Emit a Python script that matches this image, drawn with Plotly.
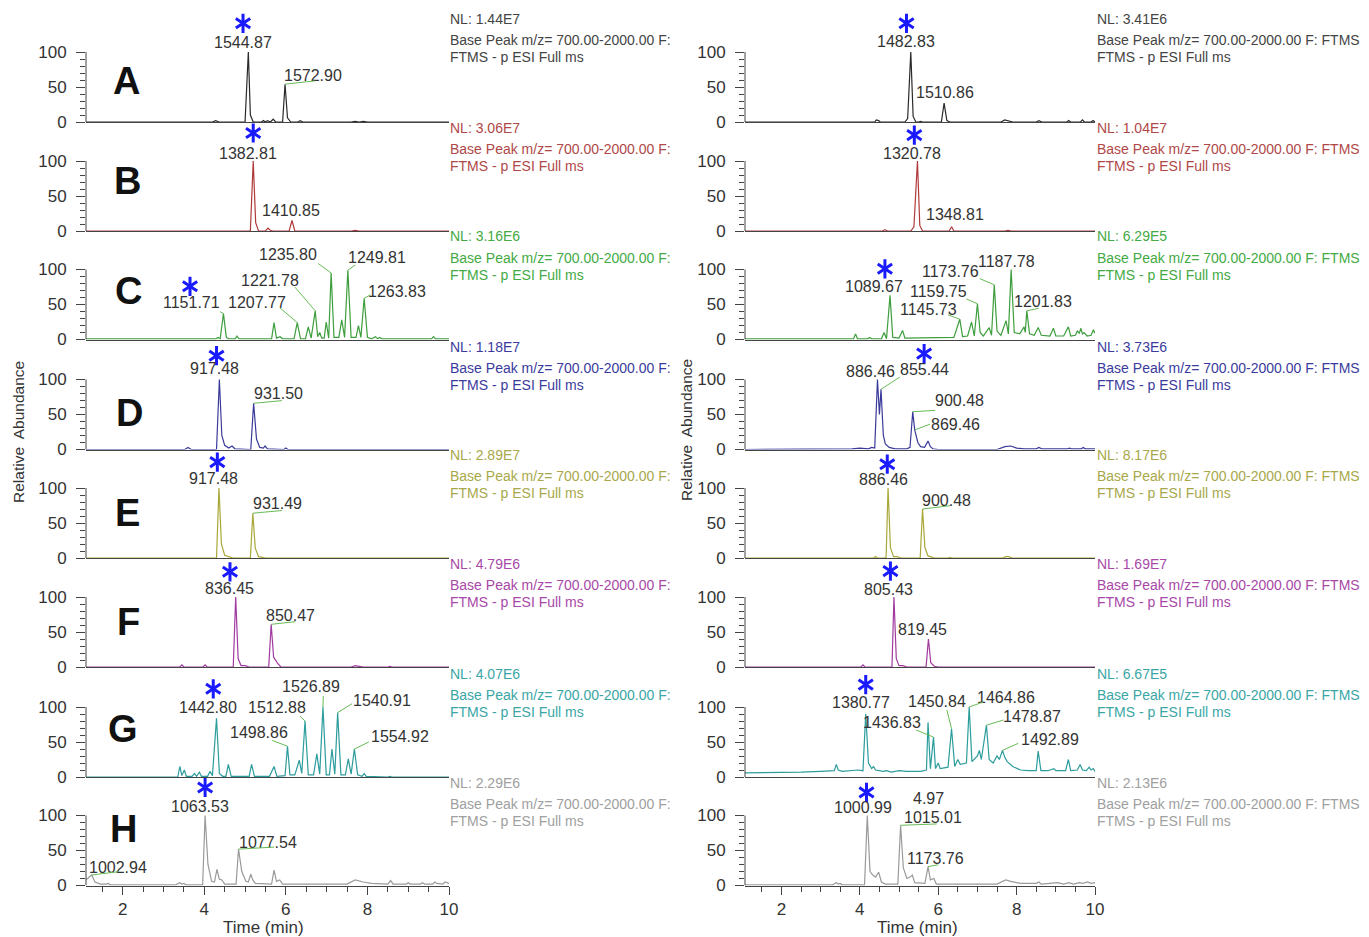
import plotly.graph_objects as go

W, H = 1369, 937
FONT = "Liberation Sans, Arial, sans-serif"

# ---------------- data: chromatogram traces (time [min], relative abundance) ----------------
L_A = [(1.1,0),(4.2,0),(4.28,2),(4.36,0),(5.0,0),(5.08,100),(5.13,10),(5.2,0),(5.4,0),(5.45,2),(5.5,0),(5.55,2),(5.62,0),(5.69,4),(5.75,0),(5.92,0),(5.98,54),(6.04,6),(6.12,0),(6.3,0),(6.35,2),(6.42,0),(7.6,0),(7.7,1),(7.8,0),(7.9,1),(8.0,0),(8.45,0),(8.5,1),(8.55,0),(9.25,0),(9.3,1),(9.35,0),(9.55,0),(9.6,1),(9.65,0),(10,0)]
L_B = [(1.1,0),(4.38,0),(4.43,1),(4.48,0),(4.83,0),(4.88,1),(4.93,0),(5.13,0),(5.2,100),(5.26,12),(5.33,0),(5.5,0),(5.56,4),(5.62,1),(5.68,0),(6.08,0),(6.15,15),(6.22,0),(7.6,0),(7.7,1),(7.8,0),(8.5,0),(8.55,1),(8.6,0),(10,0)]
L_C = [(1.1,1),(3.35,1),(3.4,2),(3.45,1),(3.6,1),(3.65,2),(3.7,1),(3.9,1),(3.95,2),(4.0,1),(4.28,1),(4.34,3),(4.39,1),(4.47,37),(4.54,3),(4.6,1),(4.76,1),(4.8,5),(4.85,1),(5.65,1),(5.71,24),(5.77,2),(5.86,4),(5.92,1),(6.2,1),(6.28,24),(6.36,1),(6.48,1),(6.55,18),(6.62,2),(6.72,41),(6.78,4),(6.83,10),(6.88,2),(6.94,2),(6.99,25),(7.05,2),(7.11,95),(7.18,3),(7.3,3),(7.37,28),(7.44,3),(7.52,99),(7.6,3),(7.72,3),(7.78,20),(7.84,3),(7.92,59),(8.0,3),(8.1,1),(8.2,4),(8.25,1),(8.3,3),(8.36,1),(9.0,1),(9.57,1),(9.62,4),(9.67,1),(10,1)]
L_D = [(1.1,0),(2.4,0),(2.45,1),(2.5,0),(3.18,0),(3.23,1),(3.28,0),(3.52,0),(3.6,3),(3.68,0),(4.3,0),(4.37,100),(4.43,20),(4.5,6),(4.6,2),(4.68,5),(4.75,1),(5.14,0),(5.21,66),(5.28,15),(5.36,3),(5.45,2),(5.49,5),(5.55,1),(5.95,0),(6.0,2),(6.05,0),(10,0)]
L_E = [(1.1,0),(3.55,0),(3.6,1),(3.65,0),(4.3,0),(4.36,100),(4.42,20),(4.5,4),(4.62,2),(4.7,0),(5.13,0),(5.19,64),(5.25,14),(5.33,2),(5.42,1),(5.5,0),(10,0)]
L_F = [(1.1,0),(1.55,0),(1.6,1),(1.65,0),(3.4,0),(3.45,3),(3.5,0),(3.97,0),(4.02,3),(4.07,0),(4.71,0),(4.77,100),(4.83,12),(4.9,2),(5.0,2),(5.1,0),(5.58,0),(5.64,61),(5.7,14),(5.8,5),(5.88,0),(7.6,0),(7.7,2),(7.8,1),(7.9,0),(8.5,0),(8.55,1),(8.6,0),(9.3,0),(9.35,1),(9.4,0),(9.9,0),(9.95,1),(10,0)]
L_G = [(1.1,0),(3.35,0),(3.4,15),(3.45,2),(3.51,10),(3.56,1),(3.7,1),(3.76,5),(3.81,1),(3.88,7),(3.93,1),(4.08,1),(4.14,8),(4.2,2),(4.3,84),(4.37,5),(4.45,1),(4.53,1),(4.59,18),(4.66,1),(5.1,1),(5.16,18),(5.23,1),(5.6,1),(5.71,15),(5.78,1),(5.98,2),(6.04,44),(6.1,3),(6.22,3),(6.33,24),(6.39,5),(6.47,80),(6.55,3),(6.68,3),(6.76,33),(6.83,4),(6.91,100),(6.99,3),(7.07,3),(7.13,40),(7.2,4),(7.27,92),(7.35,3),(7.46,3),(7.53,26),(7.6,4),(7.68,40),(7.76,3),(7.87,1),(7.92,5),(7.97,1),(8.5,0),(8.55,1),(8.6,0),(9.3,0),(9.4,1),(9.5,0),(9.6,1),(9.7,0),(10,0)]
L_H = [(1.1,8),(1.18,12),(1.24,15),(1.32,5),(1.45,2),(1.6,2),(1.64,3),(1.7,1),(3.3,1),(3.4,4),(3.45,2),(3.5,3),(3.55,1),(3.96,1),(4.02,100),(4.09,30),(4.18,6),(4.25,5),(4.31,23),(4.37,9),(4.43,8),(4.5,2),(4.78,2),(4.84,52),(4.92,20),(5.02,6),(5.08,5),(5.14,16),(5.19,8),(5.25,3),(5.65,2),(5.71,22),(5.77,6),(5.85,8),(5.92,2),(7.5,2),(7.7,8),(7.9,5),(8.1,3),(8.5,2),(8.57,7),(8.63,2),(8.95,2),(9.0,4),(9.05,2),(9.3,2),(9.35,4),(9.4,2),(9.6,2),(9.65,5),(9.7,3),(9.85,2),(9.9,5),(10,3)]

R_A = [(1.07,0),(4.38,0),(4.42,3),(4.48,2),(4.52,0),(5.15,0),(5.22,5),(5.3,100),(5.36,8),(5.43,0),(5.5,0),(5.55,1),(5.6,0),(6.08,0),(6.15,27),(6.22,2),(6.3,0),(7.6,0),(7.7,3),(7.8,2),(7.9,0),(8.5,0),(8.57,2),(8.64,0),(9.28,0),(9.33,2),(9.38,0),(9.63,0),(9.68,3),(9.73,0),(9.9,0),(9.95,2),(10,0)]
R_B = [(1.07,0),(4.58,0),(4.64,2),(4.7,0),(5.3,0),(5.38,6),(5.47,100),(5.53,8),(5.6,0),(5.75,0),(5.8,1),(5.85,0),(6.28,0),(6.34,6),(6.4,0),(7.7,0),(7.78,1),(7.86,0),(8.5,0),(8.57,1),(8.64,0),(9.6,0),(9.68,1),(9.75,0),(10,0)]
R_C = [(1.07,1),(3.0,1),(3.5,2),(3.84,1),(3.89,8),(3.94,1),(4.2,1),(4.25,3),(4.3,1),(4.55,1),(4.62,10),(4.68,1),(4.77,63),(4.84,3),(5.0,2),(5.09,13),(5.15,2),(5.5,2),(5.7,2),(6.0,2),(6.4,3),(6.55,29),(6.62,4),(6.75,5),(6.85,25),(6.92,5),(7.0,51),(7.07,10),(7.15,5),(7.3,17),(7.36,6),(7.43,78),(7.5,12),(7.6,6),(7.73,27),(7.79,8),(7.86,100),(7.94,10),(8.08,8),(8.19,18),(8.22,10),(8.26,41),(8.33,8),(8.45,6),(8.55,17),(8.63,6),(8.85,5),(8.94,16),(9.0,5),(9.2,5),(9.32,18),(9.38,5),(9.5,6),(9.55,12),(9.6,9),(9.64,16),(9.68,8),(9.72,10),(9.8,5),(9.9,6),(9.96,14),(10,9)]
R_D = [(1.07,0),(3.0,0),(3.5,1),(3.8,1),(4.0,2),(4.22,1),(4.3,3),(4.38,2),(4.45,100),(4.5,50),(4.54,86),(4.6,20),(4.65,8),(4.75,3),(4.9,1),(5.2,1),(5.28,3),(5.35,54),(5.4,28),(5.48,10),(5.55,4),(5.65,3),(5.74,12),(5.8,4),(5.86,1),(6.0,0),(7.5,0),(7.7,4),(7.85,5),(8.0,2),(8.2,1),(8.5,1),(8.57,3),(8.64,1),(9.3,1),(9.35,2),(9.4,1),(9.65,1),(9.7,3),(9.75,1),(10,1)]
R_E = [(1.07,0),(3.9,0),(3.95,1),(4.0,0),(4.35,0),(4.4,2),(4.45,0),(4.63,0),(4.67,1),(4.72,100),(4.78,15),(4.86,2),(4.95,2),(5.05,0),(5.54,0),(5.6,70),(5.66,15),(5.74,3),(5.82,2),(5.9,0),(6.25,0),(6.3,1),(6.35,0),(7.65,0),(7.72,2),(7.8,2),(7.88,0),(8.5,0),(8.55,1),(8.6,0),(9.3,0),(9.35,1),(9.4,0),(9.65,0),(9.7,1),(9.75,0),(10,0)]
R_F = [(1.07,0),(4.03,0),(4.08,3),(4.13,0),(4.82,0),(4.87,100),(4.93,12),(5.0,2),(5.1,2),(5.2,0),(5.69,0),(5.75,40),(5.81,6),(5.9,1),(6.0,0),(7.7,0),(7.78,1),(7.86,0),(8.5,0),(8.57,1),(8.64,0),(9.3,0),(9.35,1),(9.4,0),(10,0)]
R_G = [(1.07,6),(1.5,6),(2.0,7),(2.5,7),(3.0,8),(3.35,9),(3.4,18),(3.45,10),(3.55,8),(3.75,9),(3.95,10),(4.08,9),(4.15,90),(4.22,20),(4.3,12),(4.35,15),(4.4,10),(4.6,8),(4.68,9),(4.8,7),(5.0,9),(5.2,8),(5.55,8),(5.7,10),(5.74,78),(5.8,12),(5.88,57),(5.93,12),(6.0,20),(6.05,12),(6.25,14),(6.34,69),(6.42,15),(6.5,25),(6.56,18),(6.72,20),(6.79,100),(6.86,22),(7.0,30),(7.05,38),(7.1,25),(7.23,74),(7.3,25),(7.4,20),(7.5,30),(7.56,25),(7.64,38),(7.7,28),(7.76,22),(7.9,15),(8.1,10),(8.3,9),(8.5,9),(8.55,37),(8.62,9),(8.8,9),(8.95,12),(9.0,9),(9.25,9),(9.32,25),(9.38,9),(9.55,10),(9.62,18),(9.68,10),(9.78,9),(9.85,14),(9.9,10),(9.96,12),(10,8)]
R_H = [(1.07,1),(3.3,1),(3.4,4),(3.45,2),(3.5,3),(3.55,1),(4.12,1),(4.19,100),(4.26,20),(4.33,15),(4.4,12),(4.48,19),(4.55,5),(4.65,2),(4.97,2),(5.04,86),(5.11,25),(5.2,10),(5.28,12),(5.34,15),(5.4,4),(5.66,3),(5.74,27),(5.8,8),(5.89,10),(5.95,2),(7.5,2),(7.72,8),(7.85,6),(8.1,3),(8.5,3),(8.57,5),(8.63,2),(9.0,3),(9.05,4),(9.2,2),(9.33,4),(9.45,2),(9.6,4),(9.7,3),(9.8,5),(9.9,3),(10,4)]

# ---------------- peak labels: (text, label_t, label_y, leader=(peak_t, peak_y, end_t, end_y) or None) ----------------
LBL_L = [
    [("1544.87", 4.95, 113, None), ("1572.90", 6.67, 67, (5.98, 54, 6.75, 59))],
    [("1382.81", 5.07, 111, None), ("1410.85", 6.13, 29, None)],
    [("1151.71", 3.69, 53, (4.47, 37, 4.35, 41)), ("1207.77", 5.29, 53, (6.28, 24, 5.82, 47)),
     ("1221.78", 5.61, 85, (6.72, 41, 6.19, 77)), ("1235.80", 6.06, 121, (7.11, 95, 6.76, 110)),
     ("1249.81", 8.23, 117, (7.52, 99, 7.74, 108)), ("1263.83", 8.72, 69, (7.92, 59, 8.11, 65))],
    [("917.48", 4.26, 116, None), ("931.50", 5.82, 80, (5.21, 66, 5.94, 70))],
    [("917.48", 4.22, 114, None), ("931.49", 5.80, 78, (5.19, 64, 5.94, 68))],
    [("836.45", 4.61, 112, None), ("850.47", 6.12, 74, (5.64, 61, 6.27, 65))],
    [("1442.80", 4.10, 100, None), ("1498.86", 5.33, 64, (6.04, 44, 5.63, 53)),
     ("1512.88", 5.78, 100, (6.47, 80, 6.31, 89)), ("1526.89", 6.61, 130, (6.91, 100, 6.92, 118)),
     ("1540.91", 8.35, 110, (7.27, 92, 7.66, 106)), ("1554.92", 8.80, 58, (7.68, 40, 8.07, 51))],
    [("1063.53", 3.90, 113, None), ("1077.54", 5.57, 62, (4.84, 52, 5.75, 55)),
     ("1002.94", 1.89, 26, (1.24, 15, 1.93, 20))],
]
LBL_R = [
    [("1482.83", 5.17, 115, None), ("1510.86", 6.17, 42, None)],
    [("1320.78", 5.32, 111, None), ("1348.81", 6.43, 24, None)],
    [("1089.67", 4.37, 76, None), ("1145.73", 5.74, 43, (6.55, 29, 6.21, 36)),
     ("1159.75", 6.00, 69, (7.00, 51, 6.68, 59)), ("1173.76", 6.32, 97, (7.43, 78, 7.02, 88)),
     ("1187.78", 7.74, 111, None), ("1201.83", 8.68, 54, (8.26, 41, 8.60, 45))],
    [("886.46", 4.27, 111, None), ("855.44", 5.66, 114, (4.54, 86, 5.06, 105)),
     ("900.48", 6.55, 70, (5.35, 54, 5.96, 56)), ("869.46", 6.45, 36, (5.40, 28, 5.83, 37))],
    [("886.46", 4.61, 112, None), ("900.48", 6.21, 82, (5.60, 70, 6.34, 75))],
    [("805.43", 4.72, 111, None), ("819.45", 5.60, 53, None)],
    [("1380.77", 4.04, 107, None), ("1436.83", 4.81, 78, (5.88, 57, 5.40, 68)),
     ("1450.84", 5.96, 108, (6.34, 69, 6.21, 98)), ("1464.86", 7.74, 113, (6.79, 100, 7.19, 108)),
     ("1478.87", 8.38, 87, (7.23, 74, 7.70, 82)), ("1492.89", 8.85, 53, (7.64, 38, 8.08, 49))],
    [("1000.99", 4.07, 111, None), ("4.97", 5.74, 124, None),
     ("1015.01", 5.87, 97, (5.04, 86, 6.00, 88)), ("1173.76", 5.94, 38, (5.74, 27, 6.04, 30))],
]
STAR_L = [(4.95, 141), (5.20, 140), (3.65, 76), (4.30, 134), (4.32, 137), (4.63, 136), (4.22, 126), (4.02, 140)]
STAR_R = [(5.19, 141), (5.39, 137), (4.64, 101), (5.64, 137), (4.70, 134), (4.78, 137), (4.15, 132), (4.17, 133)]

NL_L = ["1.44E7", "3.06E7", "3.16E6", "1.18E7", "2.89E7", "4.79E6", "4.07E6", "2.29E6"]
NL_R = ["3.41E6", "1.04E7", "6.29E5", "3.73E6", "8.17E6", "1.69E7", "6.67E5", "2.13E6"]
PANEL_LETTERS = ["A", "B", "C", "D", "E", "F", "G", "H"]
Y_TICKS = [0, 50, 100]
Y_MINOR = [0, 10, 20, 30, 40, 50, 60, 70, 80, 90, 100]

LINE_COLORS = ["#2a2a2a", "#b03a3a", "#3d9e3d", "#3a3a9a", "#a8a838", "#a03aa0", "#2c9c9c", "#9a9a9a"]
TEXT_COLORS = ["#444444", "#b04848", "#44aa44", "#3b3b9e", "#a8a84a", "#a848a8", "#3aa6a6", "#a0a0a0"]
LEADER = "#66bb55"
STAR_COLOR = "#1a1aff"

# ---------------- layout geometry (pixels) ----------------
ROW_ZERO_PX = [122, 231, 339.5, 449.5, 558, 667, 777, 885.5]
COL_X_PX = [(86, 449), (745, 1095)]
COL_XMIN = [1.1, 1.07]
YMAX = 150          # axis range extends above 100 so the asterisks sit inside it
PX_PER_UNIT = 0.7
LETTER_POS = [(126, 81), (127, 181), (128, 291), (129, 413), (127, 513), (128, 622), (123, 729), (123, 829)]
NL_X_PX = [448, 1095]

SERIES = [[L_A, L_B, L_C, L_D, L_E, L_F, L_G, L_H], [R_A, R_B, R_C, R_D, R_E, R_F, R_G, R_H]]
LABELS = [LBL_L, LBL_R]
STARS = [STAR_L, STAR_R]
NLS = [NL_L, NL_R]
BASE_TXT = ["Base Peak m/z= 700.00-2000.00 F:", "Base Peak m/z= 700.00-2000.00 F: FTMS"]

fig = go.Figure()
axes = {}
ann = []
shapes = []

def px_x(p):
    return p / W

def px_y(p):
    return 1 - p / H

for c in range(2):
    px_per_min = (COL_X_PX[c][1] - COL_X_PX[c][0]) / (10 - COL_XMIN[c])
    for r in range(8):
        k = c * 8 + r + 1
        xa = "x" if k == 1 else f"x{k}"
        ya = "y" if k == 1 else f"y{k}"
        xn = "xaxis" if k == 1 else f"xaxis{k}"
        yn = "yaxis" if k == 1 else f"yaxis{k}"
        s = SERIES[c][r]
        fig.add_trace(go.Scatter(
            x=[p[0] for p in s], y=[p[1] for p in s], mode="lines",
            line=dict(color=LINE_COLORS[r], width=1.2),
            xaxis=xa, yaxis=ya, showlegend=False, hoverinfo="skip"))
        # blue asterisk (two three-armed markers overlaid -> six arms)
        sx, sy = STARS[c][r]
        for sym in ["y-up-open", "y-down-open"]:
            fig.add_trace(go.Scatter(
                x=[sx], y=[sy], mode="markers", cliponaxis=False,
                marker=dict(symbol=sym, size=12, color=STAR_COLOR,
                            line=dict(width=3, color=STAR_COLOR)),
                xaxis=xa, yaxis=ya, showlegend=False, hoverinfo="skip"))
        z = ROW_ZERO_PX[r]
        bottom = (r == 7)
        xd = dict(domain=[px_x(COL_X_PX[c][0]), px_x(COL_X_PX[c][1])],
                  range=[COL_XMIN[c], 10], anchor=ya, showline=True,
                  linecolor="#444", linewidth=1, showgrid=False, zeroline=False,
                  fixedrange=True)
        if bottom:
            xd.update(ticks="outside", tickmode="linear", tick0=0, dtick=2, ticklen=8,
                      tickcolor="#444", showticklabels=True,
                      tickfont=dict(size=17, color="#333", family=FONT),
                      minor=dict(tickmode="linear", tick0=0, dtick=0.5, ticklen=5,
                                 ticks="outside", tickcolor="#444"))
        else:
            xd.update(ticks="", showticklabels=False)
        axes[xn] = xd
        axes[yn] = dict(domain=[px_y(z), px_y(z - YMAX * PX_PER_UNIT)], range=[0, YMAX],
                        anchor=xa, showline=False, showgrid=False, zeroline=False,
                        ticks="outside", tickmode="array",
                        tickvals=Y_TICKS, ticklen=9, tickcolor="#444",
                        ticklabelstandoff=6,
                        tickfont=dict(size=17, color="#333", family=FONT),
                        minor=dict(tickmode="array", tickvals=Y_MINOR, ticklen=5,
                                   ticks="outside", tickcolor="#444"),
                        fixedrange=True)
        # visible y axis line only from 0 to 100
        shapes.append(dict(type="line", xref=f"{xa} domain", yref=ya, x0=0, x1=0,
                           y0=Y_TICKS[0], y1=Y_TICKS[-1], line=dict(color="#444", width=1)))
        # peak labels and leader lines
        for (txt, tx, ty, lead) in LABELS[c][r]:
            ann.append(dict(x=tx, y=ty, xref=xa, yref=ya, text=txt,
                            showarrow=False, font=dict(size=16, color="#333", family=FONT),
                            xanchor="center", yanchor="middle"))
            if lead is not None:
                pt, ph, lx, ly = lead
                ann.append(dict(x=pt, y=ph, xref=xa, yref=ya, axref=xa, ayref=ya,
                                ax=lx, ay=ly,
                                text="", showarrow=True, arrowhead=0, arrowwidth=1,
                                arrowcolor=LEADER, standoff=0, startstandoff=0))
        # NL header text
        col = TEXT_COLORS[r]
        for dy, txt in [(103, "NL: " + NLS[c][r]), (82, BASE_TXT[c]), (65, "FTMS - p ESI Full ms")]:
            ann.append(dict(x=px_x(NL_X_PX[c]), y=px_y(z - dy), xref="paper", yref="paper",
                            text=txt, showarrow=False, xanchor="left", yanchor="middle",
                            font=dict(size=14, color=col, family=FONT)))
        if c == 0:
            lx, lyp = LETTER_POS[r]
            ann.append(dict(x=px_x(lx), y=px_y(lyp), xref="paper", yref="paper",
                            text="<b>" + PANEL_LETTERS[r] + "</b>", showarrow=False,
                            xanchor="center", yanchor="middle",
                            font=dict(size=38, color="#111", family=FONT)))

# axis titles
for xc in [263, 917]:
    ann.append(dict(x=px_x(xc), y=px_y(927), xref="paper", yref="paper", text="Time (min)",
                    showarrow=False, xanchor="center", yanchor="middle",
                    font=dict(size=17, color="#333", family=FONT)))
for xc, yc in [(18, 432), (686, 430)]:
    ann.append(dict(x=px_x(xc), y=px_y(yc), xref="paper", yref="paper",
                    text="Relative  Abundance", textangle=-90, showarrow=False,
                    xanchor="center", yanchor="middle",
                    font=dict(size=15.5, color="#333", family=FONT)))

fig.update_layout(width=W, height=H, margin=dict(l=0, r=0, t=0, b=0, autoexpand=False),
                  paper_bgcolor="white", plot_bgcolor="rgba(0,0,0,0)", showlegend=False,
                  annotations=ann, shapes=shapes, **axes)
fig.write_html("out.html", config={"displayModeBar": False},
               post_script="document.body.style.margin='0';document.body.style.overflow='hidden';")
